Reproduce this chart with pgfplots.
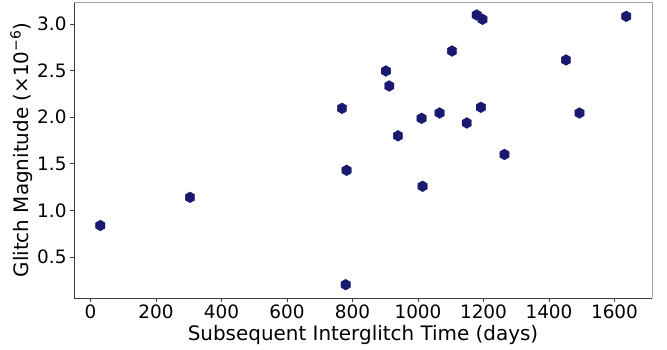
\documentclass[border=0pt]{standalone}
\usepackage{fontspec}
\setmainfont{DejaVu Sans}
\usepackage{pgfplots}
\pgfplotsset{compat=1.18}
\definecolor{navy}{RGB}{25,25,112}
\definecolor{spinedark}{RGB}{60,60,60}
\definecolor{spinelight}{RGB}{160,160,160}
\pgfdeclareplotmark{hexa}{%
  \pgfpathmoveto{\pgfqpointpolar{90}{\pgfplotmarksize}}%
  \pgfpathlineto{\pgfqpointpolar{150}{\pgfplotmarksize}}%
  \pgfpathlineto{\pgfqpointpolar{210}{\pgfplotmarksize}}%
  \pgfpathlineto{\pgfqpointpolar{270}{\pgfplotmarksize}}%
  \pgfpathlineto{\pgfqpointpolar{330}{\pgfplotmarksize}}%
  \pgfpathlineto{\pgfqpointpolar{30}{\pgfplotmarksize}}%
  \pgfpathclose
  \pgfusepathqfillstroke}
\begin{document}
\begin{tikzpicture}
\begin{axis}[
  scale only axis,
  width=578bp, height=296bp,
  xmin=-50.4, xmax=1714.5,
  ymin=0.06, ymax=3.236,
  xtick={0,200,...,1600},
  ytick={0.5,1.0,...,3.0},
  xticklabel style={/pgf/number format/1000 sep={}, yshift=1bp},
  yticklabel style={/pgf/number format/fixed, /pgf/number format/fixed zerofill, /pgf/number format/precision=1},
  /pgf/number format/assume math mode=true,
  ticklabel style={font=\fontsize{18.5}{22}\selectfont},
  label style={font=\fontsize{20}{24}\selectfont},
  tick align=outside,
  major tick length=4bp,
  tick style={spinedark, line width=0.6bp},
  xtick pos=bottom, ytick pos=left,
  axis x line*=bottom, axis y line*=left,
  axis line style={spinedark, line width=0.8bp},
  xlabel={Subsequent Interglitch Time (days)},
  ylabel={Glitch Magnitude (×10\textsuperscript{\char"2212 6})},
  xlabel style={yshift=0bp},
  ylabel style={yshift=-2bp},
  clip=false,
]
\addplot[only marks, mark=hexa, mark size=5.4bp, mark options={fill=navy, draw=navy}] coordinates {
  (30,0.838) (304,1.14) (768,2.095) (782,1.43) (779,0.203)
  (902,2.496) (912,2.335) (939,1.80) (1011,1.988) (1014,1.259)
  (1066,2.045) (1104,2.71) (1149,1.938) (1179,3.097) (1197,3.05)
  (1192,2.106) (1264,1.60) (1452,2.614) (1493,2.045) (1636,3.082)
};
\draw[spinelight, line width=0.8bp] (rel axis cs:0,1) -- (rel axis cs:1,1) -- (rel axis cs:1,0);
\end{axis}
\path (current axis.south west) ++(-74bp,-52bp) coordinate (bl);
\path (current axis.north east) ++(15bp,2bp) coordinate (tr);
\useasboundingbox (bl) rectangle (tr);
\end{tikzpicture}
\end{document}
